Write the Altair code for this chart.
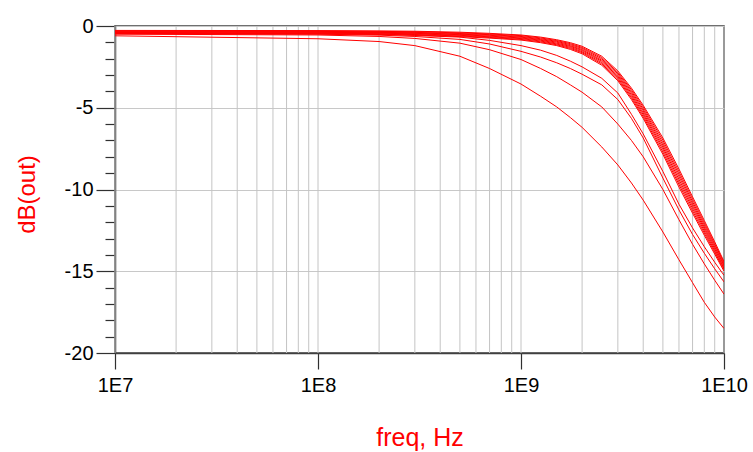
import altair as alt
import pandas as pd

# Frequency sample points (Hz) shared by every trace
freq_hz = [1e7, 1e8, 2e8, 3e8, 5e8, 7e8, 1e9, 1.25e9, 1.5e9, 1.75e9, 2e9,
           2.5e9, 3e9, 3.5e9, 4e9, 5e9, 6e9, 7e9, 8e9, 9e9, 1e10]

# Insertion-loss traces, dB(out), from the flattest response to the steepest
trace_01 = [-0.27, -0.28, -0.30, -0.32, -0.38, -0.45, -0.55, -0.68, -0.84, -1.02, -1.24,
            -1.85, -2.75, -3.80, -4.85, -6.85, -8.75, -10.45, -11.90, -13.20, -14.40]
trace_02 = [-0.30, -0.31, -0.33, -0.35, -0.42, -0.49, -0.59, -0.73, -0.89, -1.08, -1.31,
            -1.93, -2.84, -3.90, -4.96, -6.99, -8.91, -10.59, -12.03, -13.31, -14.49]
trace_03 = [-0.32, -0.33, -0.36, -0.39, -0.46, -0.53, -0.64, -0.78, -0.94, -1.14, -1.37,
            -2.01, -2.92, -4.00, -5.08, -7.14, -9.06, -10.74, -12.16, -13.41, -14.57]
trace_04 = [-0.35, -0.36, -0.39, -0.42, -0.50, -0.57, -0.68, -0.83, -0.99, -1.20, -1.44,
            -2.09, -3.01, -4.10, -5.19, -7.28, -9.22, -10.88, -12.29, -13.52, -14.66]
trace_05 = [-0.37, -0.39, -0.41, -0.45, -0.53, -0.62, -0.73, -0.87, -1.05, -1.25, -1.50,
            -2.16, -3.09, -4.20, -5.31, -7.42, -9.38, -11.02, -12.41, -13.63, -14.74]
trace_06 = [-0.40, -0.42, -0.44, -0.48, -0.57, -0.66, -0.77, -0.92, -1.10, -1.31, -1.57,
            -2.24, -3.18, -4.30, -5.42, -7.56, -9.54, -11.16, -12.54, -13.74, -14.83]
trace_07 = [-0.42, -0.44, -0.47, -0.52, -0.61, -0.70, -0.82, -0.97, -1.15, -1.37, -1.63,
            -2.32, -3.26, -4.40, -5.54, -7.71, -9.69, -11.31, -12.67, -13.84, -14.91]
trace_08 = [-0.45, -0.47, -0.50, -0.55, -0.65, -0.74, -0.86, -1.02, -1.20, -1.43, -1.70,
            -2.40, -3.35, -4.50, -5.65, -7.85, -9.85, -11.45, -12.80, -13.95, -15.00]
trace_09 = [-0.46, -0.48, -0.52, -0.58, -0.68, -0.88, -1.20, -1.48, -1.80, -2.15, -2.50,
            -3.20, -4.10, -5.40, -6.60, -8.90, -10.90, -12.35, -13.50, -14.45, -15.25]
trace_10 = [-0.47, -0.50, -0.56, -0.64, -0.82, -1.10, -1.55, -1.90, -2.25, -2.60, -2.95,
            -3.60, -4.50, -5.65, -6.85, -9.30, -11.25, -12.75, -13.90, -14.85, -15.65]
trace_11 = [-0.50, -0.55, -0.64, -0.76, -1.05, -1.45, -2.05, -2.60, -3.10, -3.60, -4.05,
            -4.95, -6.00, -7.00, -8.00, -10.00, -11.85, -13.35, -14.55, -15.55, -16.40]
trace_12 = [-0.60, -0.78, -0.95, -1.20, -1.85, -2.60, -3.55, -4.30, -4.95, -5.60, -6.20,
            -7.40, -8.50, -9.60, -10.65, -12.60, -14.30, -15.70, -16.90, -17.80, -18.50]

traces = [trace_01, trace_02, trace_03, trace_04, trace_05, trace_06,
          trace_07, trace_08, trace_09, trace_10, trace_11, trace_12]

# Decade labels and the 1-2-...-9 log grid
decade_ticks = [1e7, 1e8, 1e9, 1e10]
grid_multipliers = [1, 2, 3, 4, 5, 6, 7, 8, 9]
y_ticks = list(range(-20, 1))

rows = []
for i, vals in enumerate(traces):
    for f, v in zip(freq_hz, vals):
        rows.append({"freq": f, "db": v, "trace": i})
df = pd.DataFrame(rows)

grid_df = pd.DataFrame(
    {"freq": [m * d for d in decade_ticks[:-1] for m in grid_multipliers] + [decade_ticks[-1]]}
)

x_scale = alt.Scale(type="log", domain=[1e7, 1e10], nice=False)
x_axis = alt.Axis(
    values=decade_ticks,
    labelExpr="'1E' + round(log(datum.value) / LN10)",
    tickSize=16,
    labelPadding=6,
    labelFlush=False,
    grid=False,
    title="freq, Hz",
    titleFontSize=25,
    titleY=84,
    titleBaseline="middle",
)
y_axis = alt.Axis(
    values=y_ticks,
    labelExpr="datum.value % 5 === 0 ? '' + datum.value : ''",
    labelOverlap=False,
    tickSize={"condition": {"test": "datum.value % 5 === 0", "value": 19}, "value": 10},
    gridOpacity={"condition": {"test": "datum.value % 5 === 0", "value": 1}, "value": 0},
    gridColor="#c8c8c8",
    labelPadding=3,
    title="dB(out)",
    titleX=-88,
    titleY=168,
    titleAngle=-90,
    titleAlign="center",
    titleBaseline="middle",
)

grid = alt.Chart(grid_df).mark_rule(color="#c4c4c4", strokeWidth=1).encode(
    x=alt.X("freq:Q", scale=x_scale, axis=x_axis)
)

lines = alt.Chart(df).mark_line(color="#ff0000", strokeWidth=1, clip=True).encode(
    x=alt.X("freq:Q", scale=x_scale, axis=x_axis),
    y=alt.Y("db:Q", scale=alt.Scale(domain=[-20, 0], nice=False, zero=False), axis=y_axis),
    detail="trace:N",
)

chart = (
    alt.layer(grid, lines)
    .properties(
        width=609,
        height=327,
        autosize=alt.AutoSizeParams(type="none"),
        padding={"left": 115, "top": 26, "right": 29, "bottom": 99},
        background="white",
    )
    .configure_view(stroke="#404040", strokeWidth=1.5)
    .configure_axis(
        domainColor="#404040",
        domainWidth=1.5,
        tickColor="#303030",
        tickWidth=1.2,
        labelFont="Liberation Sans",
        labelFontSize=20,
        labelColor="#000000",
        titleFont="Liberation Sans",
        titleFontSize=24,
        titleFontWeight="normal",
        titleColor="#ff0000",
    )
)

chart.save("out.html", embed_options={"renderer": "svg", "actions": False})
